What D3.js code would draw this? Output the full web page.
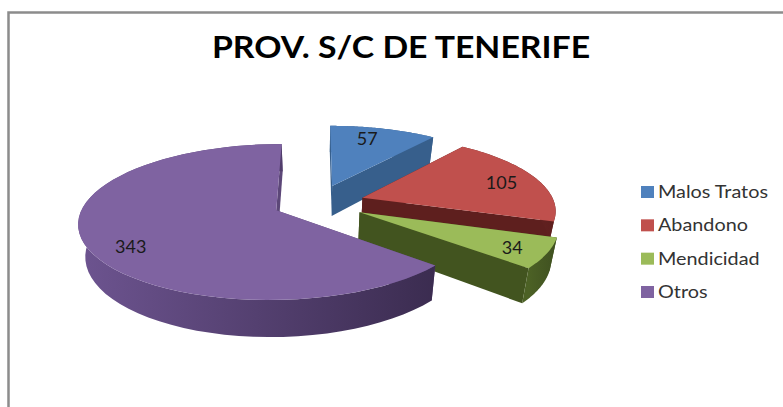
<!DOCTYPE html>
<html>
<head>
<meta charset="utf-8">
<script src="https://cdn.jsdelivr.net/npm/d3@7"></script>
<style>
  body { margin: 0; background: #fff; }
  text { font-family: Lato, sans-serif; }
</style>
</head>
<body>
<svg id="chart" width="783" height="407"></svg>
<script>
// Data
var categories = ['Malos Tratos', 'Abandono', 'Mendicidad', 'Otros'];
var values = [57, 105, 34, 343];
var titleText = 'PROV. S/C DE TENERIFE';

// Colours per slice: top face, cut faces, outer rim left/right
var topColors = ['#4f81bd', '#c0504d', '#9bbb59', '#7f63a1'];
var wallColors = ['#375f8c', '#5e1f1e', '#42541f', '#5c4778'];
var rimLeft = ['#375f8c', '#6e2a28', '#4c6125', '#6d5490'];
var rimRight = ['#375f8c', '#5e1f1e', '#3f5020', '#3b2c50'];
var explodeBy = [0.25, 0.25, 0.25, 0.23];
var labelNudge = [[-7, 0], [0, 2], [5, 3], [6, 10]];

var svg = d3.select('#chart');

// Frame
svg.append('path')
    .attr('d', 'M8.5,407V12.5H783')
    .attr('fill', 'none')
    .attr('stroke', '#8c8c8c')
    .attr('stroke-width', 2.5);

svg.append('text')
    .attr('transform', 'translate(401,58) scale(1.126,1)')
    .attr('text-anchor', 'middle')
    .attr('font-size', 30)
    .attr('font-weight', 700)
    .attr('fill', '#000')
    .text(titleText);

// Perspective projection of the pie plane, radius = 1
var pers = {x0: 317, y0: 203, f: 192, g: 74, k: 0.15, depth: 31, shrink: 0.97};

function project(u, v, low) {
    var w = 1 + pers.k * v;
    var x = pers.f * u / w;
    var y = -pers.g * v / w;
    if (low) {
        x *= pers.shrink;
        y += pers.depth / w;
    }
    return [pers.x0 + x, pers.y0 + y];
}

var pie = d3.pie().sort(null).value(d => d);
var slices = pie(values);
var line = d3.line();
var defs = svg.append('defs');
var pieG = svg.append('g').attr('class', 'pie');

// slices go back to front in data order, so plain drawing order hides what it should
slices.forEach(function(d, i) {
    var mid = (d.startAngle + d.endAngle) / 2;
    var ox = Math.sin(mid) * explodeBy[i];
    var oy = Math.cos(mid) * explodeBy[i];

    var angles = d3.range(0, 61).map(t => d.startAngle + (d.endAngle - d.startAngle) * t / 60);
    var rimTop = angles.map(a => project(ox + Math.sin(a), oy + Math.cos(a), false));
    var rimLow = angles.map(a => project(ox + Math.sin(a), oy + Math.cos(a), true));
    var tipTop = project(ox, oy, false);
    var tipLow = project(ox, oy, true);
    var g = pieG.append('g').attr('class', 'slice');

    // cut faces
    [0, rimTop.length - 1].forEach(function(e) {
        g.append('path')
            .attr('d', line([tipTop, rimTop[e], rimLow[e], tipLow]) + 'Z')
            .attr('fill', wallColors[i]);
    });

    // outer rim, shaded left to right
    var xs = d3.extent(rimTop, p => p[0]);
    var grad = defs.append('linearGradient')
        .attr('id', 'rim' + i)
        .attr('gradientUnits', 'userSpaceOnUse')
        .attr('x1', xs[0]).attr('x2', xs[1])
        .attr('y1', 0).attr('y2', 0);
    grad.append('stop').attr('offset', 0).attr('stop-color', rimLeft[i]);
    grad.append('stop').attr('offset', 1).attr('stop-color', rimRight[i]);
    g.append('path')
        .attr('d', line(rimTop.concat(rimLow.slice().reverse())) + 'Z')
        .attr('fill', 'url(#rim' + i + ')');

    // top face
    g.append('path')
        .attr('d', line([tipTop].concat(rimTop)) + 'Z')
        .attr('fill', topColors[i]);
});

// Data labels
slices.forEach(function(d, i) {
    var mid = (d.startAngle + d.endAngle) / 2;
    var r = explodeBy[i] + 0.8;
    var p = project(Math.sin(mid) * r, Math.cos(mid) * r, false);
    svg.append('text')
        .attr('x', p[0] + labelNudge[i][0])
        .attr('y', p[1] + labelNudge[i][1] + 6)
        .attr('text-anchor', 'middle')
        .attr('font-size', 18)
        .attr('fill', '#1a1a1a')
        .text(d.value);
});

// Legend
var legendY = d3.scalePoint().domain(categories).range([192, 292]);
var legend = svg.selectAll('.legend').data(categories).enter()
    .append('g')
    .attr('class', 'legend')
    .attr('transform', d => 'translate(' + [641, legendY(d)] + ')');
legend.append('rect')
    .attr('y', -6)
    .attr('width', 13)
    .attr('height', 12)
    .attr('fill', (d, i) => topColors[i]);
legend.append('text')
    .attr('transform', 'translate(17,6) scale(1.2,1)')
    .attr('font-size', 16.5)
    .attr('fill', '#333')
    .text(d => d);
</script>
</body>
</html>
